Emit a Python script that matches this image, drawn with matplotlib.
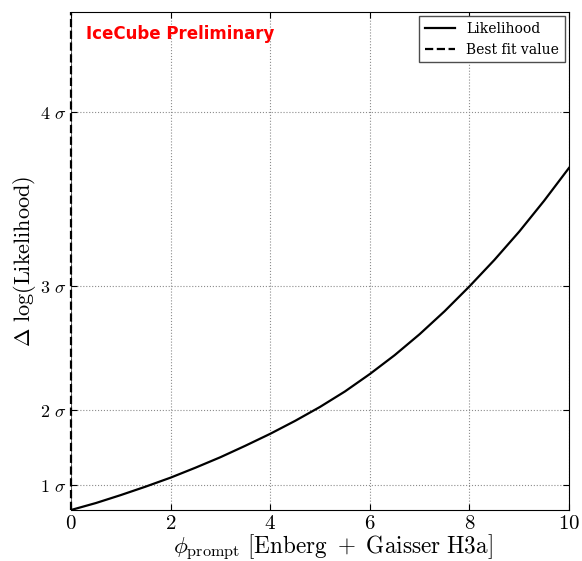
import numpy as np
import matplotlib.pyplot as plt

plt.rcParams['mathtext.fontset'] = 'cm'
plt.rcParams['font.family'] = 'DejaVu Serif'

# Delta log(Likelihood)
phi = [0, 0.5, 1, 1.5, 2, 2.5, 3, 3.5, 4, 4.5, 5,
       5.5, 6, 6.5, 7, 7.5, 8, 8.5, 9, 9.5, 10]
dllh = [0.0, 0.14, 0.30, 0.47, 0.65, 0.85, 1.06, 1.29, 1.53, 1.79, 2.07,
        2.38, 2.73, 3.11, 3.53, 3.99, 4.49, 5.02, 5.59, 6.21, 6.87]

# n sigma -> Delta logL = n^2 / 2
sigmas = [1, 2, 3, 4]
sigma_pos = [n**2 / 2. for n in sigmas]
sigma_labels = [r'$%d\ \sigma$' % n for n in sigmas]
best_fit = 0.0

fig = plt.figure(figsize=(5.82, 5.61), dpi=100)
ax = fig.add_axes([0.122, 0.0909, 0.8557, 0.8877])

ax.plot(phi, dllh, color='k', lw=1.6, label='Likelihood')
ax.axvline(best_fit, color='k', ls='--', lw=1.6, label='Best fit value',
           zorder=5, clip_on=False)
ax.spines['left'].set_linewidth(0.4)

ax.set_xlim(0, 10)
ax.set_ylim(0, 10)
ax.set_xticks([0, 2, 4, 6, 8, 10])
ax.set_xticklabels([r'$%d$' % v for v in [0, 2, 4, 6, 8, 10]], fontsize=15)
ax.set_yticks(sigma_pos)
ax.set_yticklabels(sigma_labels, fontsize=13)
ax.tick_params(direction='in', top=True, right=True, length=4)
ax.tick_params(axis='x', pad=3)
ax.grid(True, ls=':', color='0.55', lw=0.8)

ax.set_xlabel(r'$\phi_{\mathrm{prompt}}\ [\mathrm{Enberg}\ +\ \mathrm{Gaisser\ H3a}]$',
              fontsize=16.7)
ax.xaxis.set_label_coords(0.526, -0.046)
ax.set_ylabel(r'$\Delta\ \log(\mathrm{Likelihood})$', fontsize=16, labelpad=1)

ax.text(0.03, 0.955, 'IceCube Preliminary', transform=ax.transAxes, color='red',
        fontsize=12, fontweight='bold', family='DejaVu Sans', va='center')

leg = ax.legend(loc='upper right', fontsize=10, fancybox=False, framealpha=1,
                borderaxespad=0.3, handlelength=2.2)
leg.get_frame().set_edgecolor('0.3')

fig.savefig('out.png', dpi=100)
